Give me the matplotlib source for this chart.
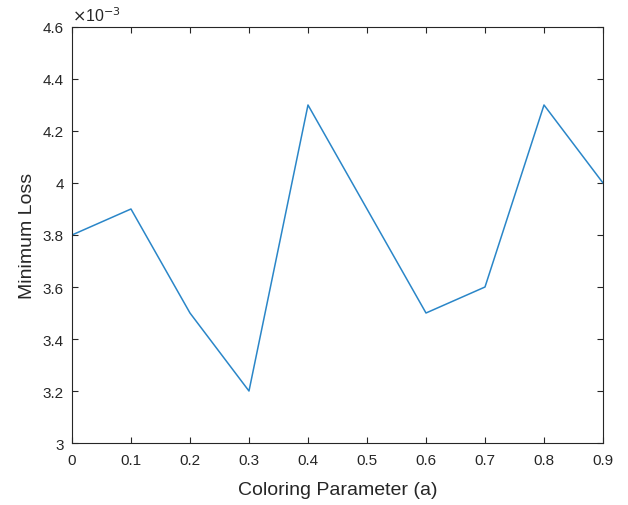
import numpy as np
import matplotlib.pyplot as plt

# coloring parameter vs minimum loss (x 1e-3)
a_vals = [0, 0.1, 0.2, 0.3, 0.4, 0.5, 0.6, 0.7, 0.8, 0.9]
min_loss = [3.8, 3.9, 3.5, 3.2, 4.3, 3.9, 3.5, 3.6, 4.3, 4.0]
x_ticks = [0, 0.1, 0.2, 0.3, 0.4, 0.5, 0.6, 0.7, 0.8, 0.9]
y_ticks = [3, 3.2, 3.4, 3.6, 3.8, 4, 4.2, 4.4, 4.6]

plt.rcParams['font.family'] = ['Liberation Sans', 'DejaVu Sans']
dark = '#262626'

fig = plt.figure(figsize=(6.28, 5.06), dpi=100)
ax = fig.add_axes([0.1146, 0.1225, 0.8456, 0.8222])

ax.plot(a_vals, min_loss, color='#2A86C8', lw=1.1)

ax.set_xlim(0, 0.9)
ax.set_ylim(3, 4.6)
ax.set_xticks(x_ticks)
ax.set_xticklabels([f'{v:g}' for v in x_ticks])
ax.set_yticks(y_ticks)
ax.set_yticklabels([f'{v:g}' for v in y_ticks])

ax.tick_params(direction='in', length=4, width=0.8, colors=dark,
               labelsize=11, top=True, right=True)
ax.tick_params(axis='x', pad=7)
ax.tick_params(axis='y', pad=6)
for s in ax.spines.values():
    s.set_color(dark)
    s.set_linewidth(0.8)

ax.set_xlabel('Coloring Parameter (a)', fontsize=14, color=dark, labelpad=10)
ax.set_ylabel('Minimum Loss', fontsize=14, color=dark, labelpad=5)

# MATLAB-style exponent label
ax.text(0.0, 1.008, r'$\times$10$^{-3}$', transform=ax.transAxes,
        fontsize=11.5, color=dark, ha='left', va='bottom')

fig.savefig('out.png', dpi=100, facecolor='white')
